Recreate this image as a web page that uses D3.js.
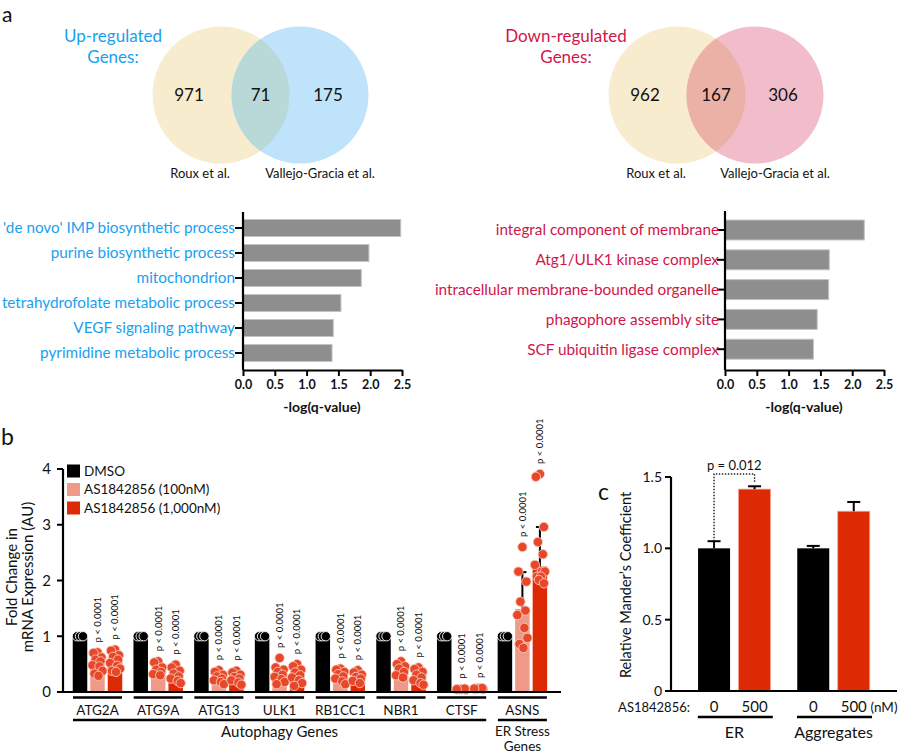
<!DOCTYPE html>
<html><head><meta charset="utf-8">
<script src="https://cdn.jsdelivr.net/npm/d3@7"></script>
<style>
body{margin:0;background:#fff}
svg{display:block}
text{font-family:Lato,'Open Sans',sans-serif;fill:#111}
</style>
</head><body>
<svg id="c" width="900" height="753"></svg>
<script>
// ---------------- DATA ----------------
const vennSources = ["Roux et al.", "Vallejo-Gracia et al."];
const upCounts = [971, 71, 175];
const downCounts = [962, 167, 306];

const upTerms = ["'de novo' IMP biosynthetic process","purine biosynthetic process","mitochondrion",
  "tetrahydrofolate metabolic process","VEGF signaling pathway","pyrimidine metabolic process"];
const upQ = [2.48, 1.98, 1.86, 1.54, 1.42, 1.40];
const downTerms = ["integral component of membrane","Atg1/ULK1 kinase complex",
  "intracellular membrane-bounded organelle","phagophore assembly site","SCF ubiquitin ligase complex"];
const downQ = [2.19, 1.64, 1.63, 1.45, 1.39];
const qTicks = [0, 0.5, 1.0, 1.5, 2.0, 2.5];

const genes = ["ATG2A","ATG9A","ATG13","ULK1","RB1CC1","NBR1","CTSF","ASNS"];
const treatments = ["DMSO","AS1842856 (100nM)","AS1842856 (1,000nM)"];
const barDMSO = [1,1,1,1,1,1,1,1];
const bar100  = [0.52, 0.35, 0.24, 0.28, 0.28, 0.35, 0.05, 1.49];
const bar1000 = [0.57, 0.30, 0.24, 0.27, 0.25, 0.27, 0.06, 2.25];
const errTop100  = [null,null,null,null,null,null,null,2.15];
const errTop1000 = [null,null,null,null,null,null,null,2.96];
const ptsDMSO = [1,1,1];
const pts100 = [
  [0.71,0.70,0.62,0.58,0.55,0.48,0.46,0.38,0.33,0.29],
  [0.55,0.53,0.44,0.40,0.36,0.32,0.30],
  [0.39,0.36,0.31,0.28,0.24,0.21,0.18,0.14],
  [0.61,0.44,0.40,0.36,0.31,0.27,0.23,0.18,0.14],
  [0.42,0.40,0.36,0.32,0.28,0.24,0.19,0.14],
  [0.55,0.50,0.46,0.42,0.36,0.30,0.26],
  [0.05,0.05,0.04,0.05,0.06,0.05],
  [2.60,2.16,1.98,1.62,1.46,1.38,1.15,0.97,0.86,0.79]
];
const pts1000 = [
  [0.76,0.74,0.66,0.63,0.58,0.52,0.47,0.42,0.38,0.36],
  [0.49,0.44,0.38,0.33,0.28,0.24,0.20,0.16],
  [0.38,0.35,0.31,0.27,0.24,0.21,0.17,0.13],
  [0.50,0.46,0.40,0.35,0.30,0.26,0.21,0.16,0.11],
  [0.39,0.35,0.31,0.27,0.24,0.20,0.16],
  [0.44,0.41,0.36,0.31,0.26,0.21,0.16,0.13],
  [0.07,0.06,0.05,0.06,0.07,0.06],
  [3.91,3.86,2.96,2.69,2.47,2.28,2.16,2.16,2.07,2.07,2.01,1.95]
];
const pLabel = "p < 0.0001";
const fcTicks = [0,1,2,3,4];
const geneGroups = ["Autophagy Genes", "ER Stress Genes"];

const conditions = ["ER","Aggregates"];
const doses = ["0","500"];
const manderMean = [[1.00, 1.415],[1.00, 1.26]];
const manderErr  = [[0.05, 0.02],[0.017, 0.065]];
const manderTicks = [0, 0.5, 1.0, 1.5];
const pValueC = "p = 0.012";

// ---------------- STYLE ----------------
const svg = d3.select("#c");
const BLUE = "#1a9ff0", CRIMSON = "#d0164a";
const PINK = "#ef9a88", RED = "#dd2a04", DOT = "#e8482a";

// panel letters
svg.append("text").attr("x",2).attr("y",22).style("font-size","21px").text("a");
svg.append("text").attr("x",1).attr("y",445).style("font-size","23px").text("b");
svg.append("text").attr("x",598).attr("y",500).style("font-size","23px").text("c");

// ---------------- VENN ----------------
function drawVenn(id, cx1, cx2, cy, r, counts, fills, titleLines, titleColor, titleX) {
  const g = svg.append("g");
  svg.append("defs").append("clipPath").attr("id", id)
    .append("circle").attr("cx", cx1).attr("cy", cy).attr("r", r);
  g.append("circle").attr("cx", cx1).attr("cy", cy).attr("r", r).attr("fill", fills[0]);
  g.append("circle").attr("cx", cx2).attr("cy", cy).attr("r", r).attr("fill", fills[1]);
  g.append("circle").attr("cx", cx2).attr("cy", cy).attr("r", r).attr("fill", fills[2])
    .attr("clip-path", `url(#${id})`);
  const nx = [cx1 - 32, (cx1 + cx2) / 2, cx2 + 28];
  g.selectAll("text.n").data(counts).join("text").attr("class","n")
    .attr("x", (d,i) => nx[i]).attr("y", cy).attr("dy","0.36em")
    .attr("text-anchor","middle").style("font-size","17px").text(d => d);
  g.selectAll("text.t").data(titleLines).join("text").attr("class","t")
    .attr("x", titleX).attr("y", (d,i) => 42 + i*21)
    .attr("text-anchor","middle").style("font-size","17px").style("fill", titleColor).text(d => d);
  const sx = [cx1 - 21, cx2 + 20];
  g.selectAll("text.s").data(vennSources).join("text").attr("class","s")
    .attr("x", (d,i) => sx[i]).attr("y", 178)
    .attr("text-anchor","middle").style("font-size","13px").text(d => d);
}
drawVenn("clipUp", 221, 300, 95, 68.5, upCounts, ["#f8ecce","#bfe3fb","#b9d8d8"],
  ["Up-regulated","Genes:"], BLUE, 113);
drawVenn("clipDown", 677, 755, 95, 68.5, downCounts, ["#f8ecce","#f1bdcb","#ebb0a6"],
  ["Down-regulated","Genes:"], CRIMSON, 566);

// ---------------- HORIZONTAL BARS ----------------
function drawHBar(terms, vals, x0, yTop, yBot, bandRange, pad, color, labelX) {
  const g = svg.append("g");
  const x = d3.scaleLinear().domain([0, 2.5]).range([x0, x0 + 159]);
  const y = d3.scaleBand().domain(terms).range(bandRange).paddingInner(pad).paddingOuter(pad/2);
  g.selectAll("rect").data(terms).join("rect")
    .attr("x", x(0)).attr("y", d => y(d)).attr("height", y.bandwidth())
    .attr("width", (d,i) => x(vals[i]) - x(0))
    .attr("fill", "#8e8e8e").attr("stroke","#c4c4c4").attr("stroke-width",1);
  g.append("line").attr("x1", x0).attr("x2", x0).attr("y1", yTop).attr("y2", yBot)
    .attr("stroke","#000").attr("stroke-width",2.2);
  g.selectAll("line.tk").data(terms).join("line").attr("class","tk")
    .attr("x1", x0 - 8).attr("x2", x0).attr("y1", d => y(d) + y.bandwidth()/2).attr("y2", d => y(d) + y.bandwidth()/2)
    .attr("stroke","#000").attr("stroke-width",2);
  g.selectAll("text.lb").data(terms).join("text").attr("class","lb")
    .attr("x", labelX).attr("y", d => y(d) + y.bandwidth()/2).attr("dy","0.35em")
    .attr("text-anchor","end").style("font-size","15.3px").style("fill", color).text(d => d);
  const ax = g.append("g").attr("transform", `translate(0,${yBot})`)
    .call(d3.axisBottom(x).tickValues(qTicks).tickFormat(d3.format(".1f")).tickSize(6).tickSizeOuter(0).tickPadding(4));
  ax.select(".domain").attr("stroke-width",2.2);
  ax.selectAll(".tick line").attr("stroke-width",2);
  ax.selectAll(".tick text").style("font-size","12.5px").style("font-weight","bold")
    .style("font-family","Lato,'Open Sans',sans-serif").attr("fill","#111");
  g.append("text").attr("x", x0 + 79).attr("y", 412).attr("text-anchor","middle")
    .style("font-size","14px").style("font-weight","bold").text("-log(q-value)");
}
drawHBar(upTerms, upQ, 243, 212, 370, [215.5, 365.5], 0.32, BLUE, 235);
drawHBar(downTerms, downQ, 725, 211, 370, [215.1, 364.1], 0.33, CRIMSON, 719);

// ---------------- PANEL B ----------------
(function(){
  const g = svg.append("g");
  const y = d3.scaleLinear().domain([0, 4]).range([692, 469]);
  const gx = d3.scalePoint().domain(genes).range([97.5, 522.4]);
  const tx = d3.scaleBand().domain([0,1,2]).range([-24.75, 24.75]).paddingInner(0.171);
  const bars = [barDMSO, bar100, bar1000];
  const errs = [null, errTop100, errTop1000];
  const pts = [genes.map(() => ptsDMSO), pts100, pts1000];
  const fills = ["#000", PINK, RED];
  const jit = [0,-4,4,-2,3,-5,2,5,-3,1,-1,4];
  const cells = [];
  genes.forEach((gn, i) => [0,1,2].forEach(j => cells.push({gn, i, j})));
  const cx = c => gx(c.gn) + tx(c.j) + tx.bandwidth()/2;

  g.selectAll("rect.bar").data(cells).join("rect").attr("class","bar")
    .attr("x", c => gx(c.gn) + tx(c.j)).attr("width", tx.bandwidth())
    .attr("y", c => y(bars[c.j][c.i])).attr("height", c => y(0) - y(bars[c.j][c.i]))
    .attr("fill", c => fills[c.j]);

  const errCells = cells.filter(c => errs[c.j] && errs[c.j][c.i] != null);
  g.selectAll("line.err").data(errCells).join("line").attr("class","err")
    .attr("x1", cx).attr("x2", cx).attr("y1", c => y(bars[c.j][c.i])).attr("y2", c => y(errs[c.j][c.i]))
    .attr("stroke","#000").attr("stroke-width",2);
  g.selectAll("line.cap").data(errCells).join("line").attr("class","cap")
    .attr("x1", c => cx(c) - 4).attr("x2", c => cx(c) + 4).attr("y1", c => y(errs[c.j][c.i])).attr("y2", c => y(errs[c.j][c.i]))
    .attr("stroke","#000").attr("stroke-width",2);

  const dots = [];
  cells.forEach(c => {
    const arr = pts[c.j][c.i];
    const sh = c.j === 0 ? [-3, 0, 3] : null;
    arr.forEach((v, k) => dots.push({c, v, dx: sh ? sh[k % 3] : jit[k % jit.length]}));
  });
  g.selectAll("circle.dot").data(dots).join("circle").attr("class","dot")
    .attr("cx", d => cx(d.c) + d.dx).attr("cy", d => y(d.v)).attr("r", 4.7)
    .attr("fill", d => d.c.j === 0 ? "#000" : DOT)
    .attr("stroke", d => d.c.j === 0 ? "#fff" : "#f8c9bc").attr("stroke-width", 0.9);

  const tc = cells.filter(c => c.j > 0);
  g.selectAll("text.p").data(tc).join("text").attr("class","p")
    .attr("transform", c => {
      const top = Math.max(d3.max(pts[c.j][c.i]), errs[c.j][c.i] || 0);
      return `translate(${cx(c)},${y(top) - 10}) rotate(-90)`;
    })
    .attr("dy","0.35em").style("font-size","9.5px").text(pLabel);

  g.append("line").attr("x1",63).attr("x2",63).attr("y1",y(4)).attr("y2",y(0)).attr("stroke","#000").attr("stroke-width",2.2);
  g.append("line").attr("x1",62).attr("x2",561).attr("y1",y(0)).attr("y2",y(0)).attr("stroke","#000").attr("stroke-width",2.2);
  g.selectAll("line.yt").data(fcTicks).join("line").attr("class","yt")
    .attr("x1",57).attr("x2",63).attr("y1",d=>y(d)).attr("y2",d=>y(d)).attr("stroke","#000").attr("stroke-width",2);
  g.selectAll("text.yt").data(fcTicks).join("text").attr("class","yt")
    .attr("x",51).attr("y",d=>y(d)).attr("dy","0.35em").attr("text-anchor","end").style("font-size","15px").text(d=>d);
  g.append("text").attr("transform","translate(17,577) rotate(-90)").attr("text-anchor","middle")
    .style("font-size","15px").text("Fold Change in");
  g.append("text").attr("transform","translate(33,577) rotate(-90)").attr("text-anchor","middle")
    .style("font-size","15px").text("mRNA Expression (AU)");

  g.selectAll("rect.lg").data(treatments).join("rect").attr("class","lg")
    .attr("x",67).attr("y",(d,i)=>464.5 + i*18.5).attr("width",13).attr("height",13).attr("fill",(d,i)=>fills[i]);
  g.selectAll("text.lg").data(treatments).join("text").attr("class","lg")
    .attr("x",84).attr("y",(d,i)=>471 + i*18.5).attr("dy","0.36em").style("font-size","13.5px").text(d=>d);

  g.selectAll("line.gu").data(genes).join("line").attr("class","gu")
    .attr("x1",d=>gx(d)-24.5).attr("x2",d=>gx(d)+24.5).attr("y1",697.5).attr("y2",697.5)
    .attr("stroke","#000").attr("stroke-width",2.6);
  g.selectAll("text.gl").data(genes).join("text").attr("class","gl")
    .attr("x",d=>gx(d)).attr("y",710).attr("dy","0.36em").attr("text-anchor","middle").style("font-size","13.5px").text(d=>d);
  const autoG = genes.slice(0,7), erG = genes.slice(7);
  g.append("line").attr("x1",gx(autoG[0])-24.5).attr("x2",gx(autoG[6])+24.5).attr("y1",720).attr("y2",720)
    .attr("stroke","#000").attr("stroke-width",2.6);
  g.append("line").attr("x1",gx(erG[0])-24.5).attr("x2",gx(erG[0])+24.5).attr("y1",720).attr("y2",720)
    .attr("stroke","#000").attr("stroke-width",2.6);
  g.append("text").attr("x",(gx(autoG[0])+gx(autoG[6]))/2).attr("y",732).attr("dy","0.36em")
    .attr("text-anchor","middle").style("font-size","15px").text(geneGroups[0]);
  const erWords = geneGroups[1].split(" ");
  g.append("text").attr("x",gx(erG[0])).attr("y",731).attr("dy","0.36em")
    .attr("text-anchor","middle").style("font-size","13.5px").text(erWords.slice(0,2).join(" "));
  g.append("text").attr("x",gx(erG[0])).attr("y",746).attr("dy","0.36em")
    .attr("text-anchor","middle").style("font-size","13.5px").text(erWords[2]);
})();

// ---------------- PANEL C ----------------
(function(){
  const g = svg.append("g");
  const y = d3.scaleLinear().domain([0, 1.5]).range([691, 477]);
  const gx = d3.scalePoint().domain(conditions).range([734.3, 833.5]);
  const off = [-20.25, 20.25];
  const fills = ["#000", RED];
  const cells = [];
  conditions.forEach((c,i) => doses.forEach((d,j) => cells.push({c,i,j})));
  const cx = k => gx(k.c) + off[k.j];
  g.selectAll("rect.b").data(cells).join("rect").attr("class","b")
    .attr("x", k => cx(k) - 16).attr("width", 32)
    .attr("y", k => y(manderMean[k.i][k.j])).attr("height", k => y(0) - y(manderMean[k.i][k.j]))
    .attr("fill", k => fills[k.j]).attr("stroke", k => k.j ? "#f3a08a" : "none").attr("stroke-width", 0.8);
  g.selectAll("line.e").data(cells).join("line").attr("class","e")
    .attr("x1", cx).attr("x2", cx)
    .attr("y1", k => y(manderMean[k.i][k.j])).attr("y2", k => y(manderMean[k.i][k.j] + manderErr[k.i][k.j]))
    .attr("stroke","#000").attr("stroke-width",2);
  g.selectAll("line.ec").data(cells).join("line").attr("class","ec")
    .attr("x1", k => cx(k) - 6.5).attr("x2", k => cx(k) + 6.5)
    .attr("y1", k => y(manderMean[k.i][k.j] + manderErr[k.i][k.j])).attr("y2", k => y(manderMean[k.i][k.j] + manderErr[k.i][k.j]))
    .attr("stroke","#000").attr("stroke-width",2);

  const k0 = cells[0], k1 = cells[1];
  const yTopB = 474;
  g.append("path")
    .attr("d", `M${cx(k0)},${y(manderMean[0][0] + manderErr[0][0]) + 9} V${yTopB} H${cx(k1)} V${y(manderMean[0][1] + manderErr[0][1]) - 4}`)
    .attr("fill","none").attr("stroke","#222").attr("stroke-width",1.4).attr("stroke-dasharray","1.4,1.6");
  g.append("text").attr("x",(cx(k0)+cx(k1))/2).attr("y",465).attr("dy","0.36em").attr("text-anchor","middle")
    .style("font-size","13px").text(pValueC);

  g.append("line").attr("x1",671).attr("x2",671).attr("y1",y(1.5)).attr("y2",y(0)).attr("stroke","#000").attr("stroke-width",2.2);
  g.append("line").attr("x1",670).attr("x2",897).attr("y1",y(0)).attr("y2",y(0)).attr("stroke","#000").attr("stroke-width",2.2);
  g.selectAll("line.yt").data(manderTicks).join("line").attr("class","yt")
    .attr("x1",665).attr("x2",671).attr("y1",d=>y(d)).attr("y2",d=>y(d)).attr("stroke","#000").attr("stroke-width",2);
  g.selectAll("text.yt").data(manderTicks).join("text").attr("class","yt")
    .attr("x",662).attr("y",d=>y(d)).attr("dy","0.36em").attr("text-anchor","end").style("font-size","14px")
    .text(d => d === 0 ? "0" : d3.format(".1f")(d));
  g.append("text").attr("transform","translate(631,585) rotate(-90)").attr("text-anchor","middle")
    .style("font-size","14.5px").text("Relative Mander\u2019s Coefficient");

  g.append("text").attr("x",690).attr("y",707).attr("dy","0.36em").attr("text-anchor","end")
    .style("font-size","13px").text("AS1842856:");
  g.selectAll("text.d").data(cells).join("text").attr("class","d")
    .attr("x", cx).attr("y",707).attr("dy","0.36em").attr("text-anchor","middle").style("font-size","15px")
    .text(k => doses[k.j]);
  g.append("text").attr("x",884).attr("y",707).attr("dy","0.36em").attr("text-anchor","middle")
    .style("font-size","13.5px").text("(nM)");
  g.selectAll("line.u").data(conditions).join("line").attr("class","u")
    .attr("x1", d => gx(d) - 36.5).attr("x2", d => gx(d) + 38.5).attr("y1",717).attr("y2",717)
    .attr("stroke","#000").attr("stroke-width",2.6);
  g.selectAll("text.cn").data(conditions).join("text").attr("class","cn")
    .attr("x", d => gx(d)).attr("y",732).attr("dy","0.36em").attr("text-anchor","middle").style("font-size","16px")
    .text(d => d);
})();
</script>
</body></html>
